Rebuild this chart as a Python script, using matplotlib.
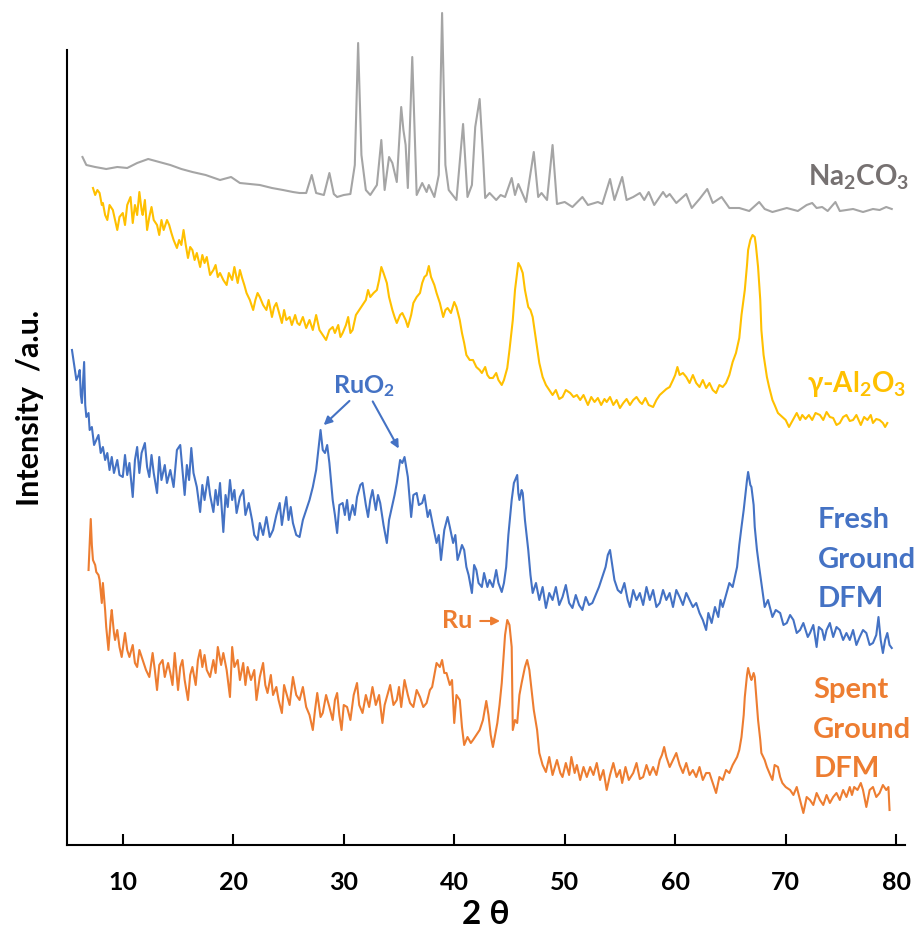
import matplotlib
matplotlib.use("Agg")
import matplotlib.pyplot as plt

# XRD patterns, intensity (arbitrary units, stacked)
na2co3_x = [6.35, 6.7, 7.5, 8.5, 9.5, 10.4, 11.3, 12.3, 13.3, 14.3, 15.3, 16.3, 17.5, 18.8, 19.8, 20.6,
            22.4, 23.5, 24.5, 25.4, 26.0, 26.6, 27.1, 27.5, 28.2, 28.7, 29.1, 29.4, 30.0, 30.6, 31.0, 31.3,
            31.6, 32.0, 32.4, 33.0, 33.4, 33.7, 34.1, 34.4, 34.8, 35.2, 35.4, 35.6, 35.8, 36.2, 36.6, 37.1,
            37.5, 37.7, 38.2, 38.6, 38.9, 39.2, 39.5, 40.2, 40.8, 41.2, 41.6, 41.9, 42.3, 42.6, 42.8, 43.2,
            43.8, 44.2, 44.6, 45.2, 45.5, 45.8, 46.5, 47.2, 47.6, 47.9, 48.4, 48.9, 49.3, 50.0, 50.7, 51.6,
            52.1, 53.0, 53.4, 54.1, 54.5, 55.2, 55.6, 56.2, 56.8, 57.2, 57.6, 58.1, 58.9, 59.2, 59.5, 60.1,
            61.0, 61.5, 62.2, 62.9, 63.4, 64.2, 64.9, 65.8, 66.7, 67.6, 68.1, 68.8, 70.1, 71.1, 71.9, 72.4,
            72.8, 73.3, 73.8, 74.5, 74.9, 76.1, 77.0, 77.9, 78.5, 79.1, 79.6]
na2co3_y = [688, 680, 678, 676, 678, 677, 682, 686, 683, 680, 676, 673, 670, 665, 668, 662,
            660, 657, 655, 653, 652, 652, 670, 652, 650, 672, 651, 648, 650, 651, 680, 802,
            690, 655, 650, 660, 705, 655, 688, 682, 663, 738, 715, 700, 657, 788, 650, 662,
            653, 660, 648, 670, 832, 680, 655, 645, 721, 648, 660, 718, 746, 690, 647, 652,
            645, 650, 648, 667, 650, 661, 643, 693, 648, 652, 645, 700, 641, 643, 638, 648,
            640, 643, 641, 666, 645, 668, 645, 648, 652, 645, 653, 640, 653, 648, 651, 642,
            651, 637, 646, 656, 642, 648, 637, 637, 634, 643, 636, 633, 637, 634, 640, 642,
            637, 638, 634, 643, 634, 636, 633, 636, 635, 638, 636]

al2o3_x = [7.3, 7.5, 7.7, 7.9, 8.1, 8.2, 8.4, 8.6, 8.8, 9.1, 9.3, 9.5, 9.7, 10.0, 10.2, 10.4,
           10.7, 10.9, 11.1, 11.3, 11.5, 11.7, 11.8, 12.0, 12.2, 12.4, 12.6, 12.8, 13.1, 13.3, 13.5, 13.7,
           14.0, 14.2, 14.4, 14.6, 14.9, 15.1, 15.3, 15.5, 15.7, 15.9, 16.1, 16.3, 16.5, 16.7, 17.0, 17.2,
           17.4, 17.6, 17.9, 18.2, 18.4, 18.6, 18.8, 19.1, 19.4, 19.6, 19.9, 20.1, 20.4, 20.6, 20.8, 21.0,
           21.2, 21.5, 21.8, 22.0, 22.2, 22.4, 22.7, 23.0, 23.2, 23.5, 23.7, 23.9, 24.2, 24.4, 24.6, 24.8,
           25.1, 25.3, 25.6, 25.8, 26.0, 26.3, 26.6, 26.9, 27.2, 27.5, 27.8, 28.1, 28.4, 28.7, 29.0, 29.2,
           29.5, 29.7, 29.9, 30.2, 30.4, 30.6, 30.8, 31.1, 31.4, 31.7, 32.0, 32.2, 32.4, 32.7, 33.0, 33.2,
           33.4, 33.6, 33.9, 34.1, 34.4, 34.6, 34.8, 35.1, 35.3, 35.6, 35.8, 36.1, 36.3, 36.6, 36.9, 37.1,
           37.3, 37.5, 37.7, 37.9, 38.2, 38.4, 38.7, 39.0, 39.2, 39.4, 39.7, 40.0, 40.2, 40.5, 40.7, 40.9,
           41.1, 41.4, 41.7, 42.0, 42.3, 42.5, 42.8, 43.0, 43.2, 43.5, 43.8, 44.0, 44.3, 44.5, 44.8, 45.0,
           45.3, 45.5, 45.8, 46.0, 46.2, 46.4, 46.7, 46.9, 47.1, 47.4, 47.7, 48.0, 48.3, 48.6, 48.9, 49.2,
           49.5, 49.8, 50.1, 50.5, 50.8, 51.1, 51.4, 51.7, 52.1, 52.4, 52.7, 53.0, 53.3, 53.6, 53.8, 54.1,
           54.4, 54.7, 55.0, 55.3, 55.6, 55.9, 56.2, 56.5, 56.8, 57.0, 57.3, 57.6, 58.0, 58.3, 58.6, 58.9,
           59.2, 59.5, 59.8, 60.0, 60.2, 60.4, 60.7, 61.0, 61.3, 61.6, 61.9, 62.2, 62.5, 62.8, 63.1, 63.4,
           63.7, 64.0, 64.3, 64.6, 64.9, 65.2, 65.5, 65.8, 66.0, 66.3, 66.5, 66.6, 66.8, 67.0, 67.2, 67.3,
           67.5, 67.7, 67.8, 68.0, 68.3, 68.5, 68.8, 69.0, 69.3, 69.7, 70.0, 70.3, 70.5, 70.8, 71.0, 71.3,
           71.5, 71.8, 72.1, 72.4, 72.7, 73.1, 73.4, 73.7, 74.0, 74.3, 74.6, 74.9, 75.2, 75.5, 75.8, 76.1,
           76.4, 76.8, 77.1, 77.4, 77.7, 77.9, 78.2, 78.5, 78.8, 79.0, 79.2]
al2o3_y = [657, 650, 655, 652, 640, 642, 630, 625, 640, 635, 625, 615, 628, 632, 620, 640,
           648, 622, 640, 630, 653, 635, 630, 645, 615, 628, 638, 625, 620, 610, 625, 615,
           625, 620, 612, 605, 597, 605, 600, 615, 600, 587, 598, 595, 585, 592, 578, 590,
           582, 588, 570, 575, 580, 568, 572, 565, 560, 572, 565, 578, 562, 575, 567, 560,
           552, 545, 535, 545, 552, 548, 540, 535, 545, 528, 538, 542, 530, 522, 535, 525,
           528, 520, 530, 522, 520, 528, 517, 525, 515, 530, 515, 510, 505, 515, 518, 512,
           520, 508, 512, 520, 528, 512, 515, 530, 535, 540, 545, 555, 548, 552, 555, 565,
           578, 572, 562, 548, 535, 528, 522, 530, 532, 525, 518, 530, 542, 548, 552, 562,
           568, 570, 579, 568, 560, 552, 542, 528, 535, 537, 532, 543, 538, 525, 512, 502,
           490, 485, 485, 478, 475, 472, 478, 470, 467, 467, 472, 465, 460, 465, 477, 495,
           525, 555, 582, 578, 572, 555, 538, 535, 528, 505, 482, 468, 460, 455, 450, 455,
           446, 448, 455, 452, 448, 450, 445, 450, 440, 448, 443, 447, 440, 446, 443, 448,
           440, 445, 437, 442, 446, 440, 445, 448, 443, 441, 447, 440, 438, 445, 450, 453,
           456, 458, 465, 470, 478, 470, 472, 468, 462, 470, 462, 458, 465, 457, 462, 455,
           452, 460, 458, 462, 470, 483, 492, 507, 530, 555, 580, 595, 605, 610, 608, 600,
           578, 545, 515, 490, 468, 458, 445, 440, 432, 428, 425, 418, 422, 428, 432, 425,
           430, 426, 430, 425, 432, 430, 425, 433, 428, 427, 420, 422, 428, 430, 424, 425,
           430, 420, 428, 425, 430, 422, 426, 425, 422, 418, 422]

fresh_x = [5.4, 5.6, 5.8, 6.0, 6.1, 6.2, 6.3, 6.5, 6.6, 6.7, 6.9, 7.0, 7.2, 7.4, 7.6, 7.8,
           8.0, 8.2, 8.4, 8.6, 8.8, 9.0, 9.2, 9.5, 9.7, 10.0, 10.2, 10.4, 10.6, 10.9, 11.1, 11.3,
           11.5, 11.7, 12.0, 12.2, 12.4, 12.6, 12.8, 13.1, 13.3, 13.5, 13.8, 14.0, 14.3, 14.6, 14.9, 15.2,
           15.4, 15.6, 15.8, 16.0, 16.2, 16.4, 16.7, 17.0, 17.2, 17.4, 17.7, 17.9, 18.2, 18.4, 18.6, 18.8,
           19.1, 19.3, 19.5, 19.7, 19.9, 20.1, 20.3, 20.6, 20.9, 21.1, 21.4, 21.7, 21.9, 22.2, 22.4, 22.7,
           23.0, 23.3, 23.6, 23.9, 24.2, 24.4, 24.6, 24.8, 25.0, 25.2, 25.4, 25.7, 26.0, 26.3, 26.6, 26.9,
           27.2, 27.5, 27.7, 27.9, 28.1, 28.3, 28.5, 28.7, 29.0, 29.2, 29.4, 29.6, 29.9, 30.1, 30.3, 30.5,
           30.8, 31.0, 31.2, 31.5, 31.7, 32.0, 32.2, 32.4, 32.6, 32.9, 33.1, 33.3, 33.6, 33.9, 34.1, 34.3,
           34.6, 34.8, 35.1, 35.3, 35.5, 35.8, 36.1, 36.3, 36.6, 36.8, 37.1, 37.3, 37.6, 37.8, 38.1, 38.4,
           38.6, 38.8, 39.1, 39.4, 39.6, 39.9, 40.1, 40.3, 40.5, 40.7, 40.9, 41.1, 41.3, 41.6, 41.8, 42.0,
           42.2, 42.5, 42.7, 43.0, 43.2, 43.5, 43.8, 44.0, 44.3, 44.5, 44.7, 44.9, 45.2, 45.4, 45.7, 45.8,
           45.9, 46.1, 46.2, 46.4, 46.7, 46.9, 47.1, 47.4, 47.7, 48.0, 48.3, 48.6, 48.9, 49.2, 49.5, 49.8,
           50.1, 50.4, 50.7, 51.0, 51.3, 51.6, 51.9, 52.2, 52.5, 52.8, 53.1, 53.4, 53.7, 53.9, 54.1, 54.3,
           54.5, 54.8, 55.1, 55.4, 55.7, 55.9, 56.2, 56.5, 56.8, 57.1, 57.4, 57.7, 58.0, 58.3, 58.6, 58.9,
           59.2, 59.5, 59.8, 60.1, 60.4, 60.7, 61.0, 61.3, 61.6, 61.9, 62.2, 62.5, 62.8, 63.0, 63.3, 63.6,
           63.9, 64.1, 64.3, 64.6, 64.9, 65.2, 65.6, 65.8, 66.0, 66.2, 66.3, 66.5, 66.6, 66.8, 66.9, 67.1,
           67.2, 67.4, 67.6, 67.8, 68.1, 68.4, 68.8, 69.1, 69.5, 69.8, 70.1, 70.4, 70.7, 71.0, 71.3, 71.6,
           72.0, 72.2, 72.5, 72.8, 73.0, 73.3, 73.5, 73.7, 74.0, 74.3, 74.6, 74.9, 75.2, 75.5, 75.8, 76.1,
           76.4, 76.7, 77.0, 77.3, 77.6, 77.9, 78.2, 78.4, 78.6, 78.8, 79.0, 79.2, 79.4, 79.6]
fresh_y = [495, 480, 465, 470, 475, 450, 442, 483, 440, 428, 432, 415, 418, 400, 405, 410,
           392, 398, 385, 392, 375, 388, 372, 385, 370, 368, 390, 370, 382, 348, 385, 398,
           372, 392, 402, 378, 368, 390, 372, 352, 388, 365, 380, 362, 375, 358, 395, 400,
           375, 350, 380, 365, 397, 372, 358, 333, 360, 345, 368, 350, 333, 355, 340, 362,
           313, 350, 338, 365, 345, 355, 332, 348, 355, 330, 342, 325, 310, 305, 322, 310,
           328, 308, 315, 330, 342, 320, 335, 348, 325, 338, 322, 310, 308, 325, 335, 345,
           358, 375, 395, 415, 395, 392, 400, 382, 345, 330, 312, 340, 342, 330, 345, 325,
           340, 330, 348, 360, 362, 340, 328, 345, 355, 335, 350, 342, 320, 302, 325, 335,
           350, 362, 385, 382, 388, 368, 328, 350, 352, 340, 342, 350, 328, 335, 318, 302,
           310, 285, 315, 328, 318, 302, 310, 285, 292, 300, 295, 278, 270, 252, 280, 275,
           262, 258, 272, 258, 265, 258, 275, 262, 253, 262, 278, 310, 345, 362, 370, 352,
           345, 355, 352, 325, 295, 270, 252, 262, 245, 258, 237, 252, 245, 258, 240, 248,
           260, 242, 237, 250, 240, 235, 248, 240, 242, 250, 258, 268, 278, 290, 295, 280,
           265, 255, 252, 262, 245, 238, 255, 245, 252, 240, 258, 245, 255, 238, 242, 255,
           245, 252, 238, 255, 248, 240, 252, 245, 238, 242, 232, 225, 215, 232, 222, 238,
           228, 245, 238, 250, 262, 258, 278, 300, 318, 335, 345, 365, 373, 360, 358, 340,
           318, 295, 278, 262, 238, 245, 228, 235, 232, 220, 222, 230, 225, 212, 215, 222,
           208, 212, 220, 198, 218, 215, 205, 215, 222, 208, 218, 215, 205, 212, 205, 215,
           200, 208, 215, 212, 200, 202, 210, 228, 205, 192, 205, 212, 200, 197]

spent_x = [6.9, 7.1, 7.2, 7.3, 7.5, 7.6, 7.8, 7.9, 8.1, 8.2, 8.4, 8.5, 8.7, 8.9, 9.0, 9.2,
           9.3, 9.5, 9.7, 9.9, 10.2, 10.4, 10.6, 10.9, 11.1, 11.3, 11.5, 11.8, 12.1, 12.4, 12.7, 12.9,
           13.1, 13.3, 13.6, 13.8, 14.1, 14.3, 14.5, 14.7, 15.0, 15.2, 15.4, 15.6, 15.9, 16.1, 16.3, 16.6,
           16.8, 17.0, 17.2, 17.4, 17.6, 17.9, 18.2, 18.4, 18.6, 18.9, 19.1, 19.4, 19.7, 19.9, 20.1, 20.4,
           20.6, 20.9, 21.1, 21.3, 21.6, 21.9, 22.1, 22.4, 22.7, 22.9, 23.1, 23.4, 23.6, 23.9, 24.1, 24.4,
           24.6, 24.8, 25.1, 25.4, 25.7, 26.0, 26.3, 26.6, 26.9, 27.2, 27.4, 27.6, 27.9, 28.1, 28.4, 28.7,
           29.0, 29.2, 29.4, 29.6, 29.8, 30.0, 30.3, 30.6, 30.9, 31.2, 31.4, 31.7, 32.0, 32.3, 32.6, 32.9,
           33.2, 33.5, 33.7, 33.9, 34.2, 34.5, 34.8, 35.0, 35.2, 35.5, 35.8, 36.0, 36.3, 36.6, 36.9, 37.2,
           37.5, 37.8, 38.0, 38.2, 38.4, 38.7, 38.9, 39.1, 39.3, 39.6, 39.8, 40.0, 40.2, 40.5, 40.7, 40.9,
           41.2, 41.5, 41.7, 42.0, 42.3, 42.6, 42.9, 43.1, 43.3, 43.5, 43.7, 43.9, 44.1, 44.3, 44.6, 44.8,
           45.0, 45.2, 45.3, 45.5, 45.7, 45.9, 46.1, 46.4, 46.6, 46.8, 47.0, 47.2, 47.5, 47.7, 48.0, 48.3,
           48.6, 48.9, 49.3, 49.6, 49.8, 50.1, 50.4, 50.6, 50.9, 51.1, 51.4, 51.7, 52.0, 52.3, 52.6, 52.9,
           53.2, 53.5, 53.8, 54.1, 54.4, 54.7, 55.0, 55.2, 55.5, 55.8, 56.2, 56.5, 56.8, 57.1, 57.4, 57.7,
           58.0, 58.3, 58.6, 58.8, 59.0, 59.2, 59.5, 59.8, 60.1, 60.4, 60.7, 61.0, 61.3, 61.6, 61.9, 62.2,
           62.5, 62.8, 63.1, 63.4, 63.7, 64.0, 64.3, 64.6, 64.9, 65.2, 65.6, 65.8, 66.0, 66.2, 66.3, 66.5,
           66.6, 66.8, 66.9, 67.1, 67.2, 67.4, 67.5, 67.7, 67.8, 68.1, 68.3, 68.6, 68.8, 69.0, 69.3, 69.5,
           69.7, 70.0, 70.4, 70.7, 71.0, 71.3, 71.6, 71.9, 72.2, 72.5, 72.8, 73.1, 73.4, 73.7, 74.0, 74.3,
           74.6, 74.9, 75.2, 75.5, 75.8, 76.0, 76.2, 76.5, 76.8, 77.0, 77.3, 77.6, 77.9, 78.2, 78.5, 78.8,
           79.1, 79.3, 79.4]
spent_y = [275, 326, 300, 285, 280, 273, 270, 265, 242, 262, 235, 218, 195, 225, 235, 212,
           205, 215, 198, 188, 212, 195, 188, 200, 182, 178, 195, 185, 175, 168, 192, 175,
           155, 180, 185, 168, 182, 172, 160, 192, 155, 178, 185, 165, 145, 170, 178, 160,
           185, 195, 178, 190, 175, 168, 185, 172, 198, 180, 192, 175, 148, 198, 178, 185,
           165, 182, 160, 178, 165, 175, 145, 168, 182, 160, 152, 170, 150, 158, 145, 132,
           160, 152, 140, 168, 150, 145, 158, 138, 130, 115, 135, 152, 128, 132, 150, 138,
           125, 145, 152, 130, 115, 140, 138, 125, 150, 162, 140, 132, 150, 138, 158, 140,
           150, 122, 140, 148, 160, 140, 145, 158, 138, 165, 150, 142, 138, 155, 148, 138,
           142, 155, 158, 170, 182, 178, 185, 172, 172, 160, 165, 122, 150, 145, 118, 100,
           108, 102, 105, 110, 115, 125, 144, 130, 110, 98, 110, 122, 140, 162, 210, 225,
           220, 198, 115, 125, 122, 150, 162, 178, 185, 175, 155, 135, 115, 92, 80, 73,
           88, 70, 85, 72, 68, 82, 70, 88, 72, 80, 65, 78, 68, 78, 70, 82,
           65, 75, 55, 70, 82, 68, 75, 62, 78, 65, 72, 82, 66, 68, 80, 70,
           78, 70, 85, 90, 98, 88, 78, 85, 92, 80, 72, 82, 70, 75, 68, 78,
           65, 72, 72, 62, 52, 68, 65, 75, 72, 80, 88, 95, 108, 130, 148, 170,
           177, 168, 165, 172, 168, 140, 125, 105, 92, 85, 78, 70, 65, 80, 78, 68,
           62, 58, 55, 50, 58, 45, 32, 48, 45, 40, 52, 45, 40, 50, 42, 48,
           52, 45, 55, 48, 58, 50, 58, 55, 62, 55, 38, 55, 58, 48, 52, 60,
           55, 58, 35]

tick_vals = [10, 20, 30, 40, 50, 60, 70, 80]

plt.rcParams['font.family'] = ['Lato', 'DejaVu Sans']
plt.rcParams['font.weight'] = 'bold'

fig = plt.figure(figsize=(9.22, 9.40), dpi=100)
ax = fig.add_axes([67/922, 95/940, 838/922, 795/940])

ax.plot(na2co3_x, na2co3_y, color='#A5A5A5', lw=1.5, clip_on=False)
ax.plot(al2o3_x, al2o3_y, color='#FFC000', lw=1.5, clip_on=False)
ax.plot(fresh_x, fresh_y, color='#4472C4', lw=1.5, clip_on=False)
ax.plot(spent_x, spent_y, color='#ED7D31', lw=1.5, clip_on=False)

ax.set_xlim(4.95, 80.8)
ax.set_ylim(0, 795)
ax.set_xticks(tick_vals)
ax.set_yticks([])
ax.tick_params(axis='x', direction='in', length=8, width=1.5, pad=19, labelsize=18)
for lab in ax.get_xticklabels():
    lab.set_fontweight('bold')
ax.spines['top'].set_visible(False)
ax.spines['right'].set_visible(False)
ax.spines['left'].set_linewidth(1.5)
ax.spines['bottom'].set_linewidth(1.5)

ax.set_xlabel('2 θ', fontsize=24, fontweight='bold', labelpad=4)
ax.set_ylabel('Intensity  /a.u.', fontsize=22, fontweight='bold')
ax.yaxis.set_label_coords(-0.027, 0.55)

ax.text(72.0, 660, r'Na$\mathregular{_2}$CO$\mathregular{_3}$', color='#767171', fontsize=20, fontweight='bold', va='baseline')
ax.text(71.9, 453, r'γ-Al$\mathregular{_2}$O$\mathregular{_3}$', color='#FFC000', fontsize=20, fontweight='bold', va='baseline')
ax.text(29.0, 452, r'RuO$\mathregular{_2}$', color='#4472C4', fontsize=18, fontweight='bold', va='baseline')
for i, w in enumerate(['Fresh', 'Ground', 'DFM']):
    ax.text(72.9, 317 - 39.5 * i, w, color='#4472C4', fontsize=21, fontweight='bold', va='baseline')
for i, w in enumerate(['Spent', 'Ground', 'DFM']):
    ax.text(72.5, 147 - 39.5 * i, w, color='#ED7D31', fontsize=21, fontweight='bold', va='baseline')
ax.text(38.9, 217, 'Ru', color='#ED7D31', fontsize=18, fontweight='bold', va='baseline')

ax.annotate('', xy=(28.0, 418), xytext=(30.7, 446),
            arrowprops=dict(arrowstyle='-|>', color='#4472C4', lw=1.5, mutation_scale=12))
ax.annotate('', xy=(35.1, 394), xytext=(32.5, 446),
            arrowprops=dict(arrowstyle='-|>', color='#4472C4', lw=1.5, mutation_scale=12))
ax.annotate('', xy=(44.4, 224), xytext=(42.1, 224),
            arrowprops=dict(arrowstyle='-|>', color='#ED7D31', lw=1.5, mutation_scale=12))

fig.savefig('out.png', dpi=100)
